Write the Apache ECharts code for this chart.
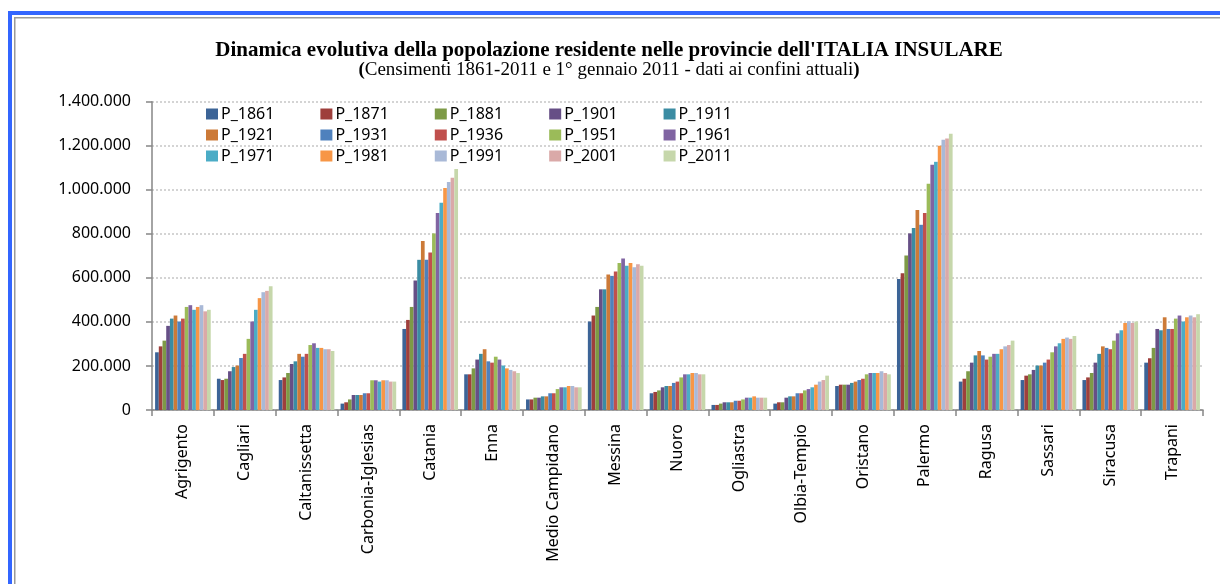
<!DOCTYPE html>
<html>
<head>
<meta charset="utf-8">
<script src="https://cdn.jsdelivr.net/npm/echarts@6/dist/echarts.min.js"></script>
<style>
  html, body { margin: 0; padding: 0; background: #fff; }
  #main { width: 1220px; height: 584px; }
</style>
</head>
<body>
<div id="main"></div>
<script>
// province
const categories = ['Agrigento', 'Cagliari', 'Caltanissetta', 'Carbonia-Iglesias', 'Catania', 'Enna', 'Medio Campidano', 'Messina', 'Nuoro', 'Ogliastra', 'Olbia-Tempio', 'Oristano', 'Palermo', 'Ragusa', 'Sassari', 'Siracusa', 'Trapani']

// popolazione per censimento
const p1861 = [262000, 142000, 136000, 29000, 368000, 162000, 48000, 402000, 76000, 23000, 29000, 109000, 595000, 129000, 136000, 136000, 215000]
const p1871 = [289000, 136000, 148000, 35000, 409000, 162000, 48000, 429000, 82000, 23000, 35000, 115000, 621000, 142000, 156000, 148000, 235000]
const p1881 = [315000, 142000, 168000, 48000, 468000, 189000, 56000, 468000, 89000, 29000, 35000, 115000, 702000, 176000, 162000, 168000, 282000]
const p1901 = [382000, 176000, 209000, 68000, 588000, 229000, 56000, 548000, 103000, 35000, 56000, 115000, 802000, 215000, 182000, 215000, 368000]
const p1911 = [415000, 195000, 221000, 68000, 682000, 255000, 62000, 548000, 109000, 35000, 62000, 123000, 827000, 248000, 202000, 255000, 362000]
const p1921 = [429000, 202000, 255000, 68000, 768000, 276000, 62000, 615000, 109000, 35000, 62000, 129000, 908000, 268000, 202000, 289000, 421000]
const p1931 = [402000, 236000, 242000, 76000, 682000, 221000, 76000, 609000, 123000, 42000, 76000, 136000, 841000, 248000, 215000, 282000, 368000]
const p1936 = [415000, 255000, 255000, 76000, 715000, 215000, 76000, 629000, 129000, 42000, 76000, 142000, 895000, 229000, 229000, 276000, 368000]
const p1951 = [468000, 323000, 295000, 135000, 802000, 242000, 95000, 668000, 148000, 48000, 89000, 162000, 1027000, 242000, 262000, 315000, 415000]
const p1961 = [476000, 402000, 303000, 135000, 895000, 229000, 103000, 688000, 162000, 56000, 95000, 168000, 1114000, 255000, 289000, 348000, 429000]
const p1971 = [455000, 455000, 282000, 129000, 941000, 202000, 103000, 655000, 162000, 56000, 103000, 168000, 1127000, 255000, 303000, 362000, 402000]
const p1981 = [468000, 508000, 282000, 135000, 1008000, 189000, 109000, 668000, 168000, 62000, 115000, 168000, 1200000, 276000, 323000, 395000, 421000]
const p1991 = [476000, 535000, 276000, 135000, 1035000, 182000, 109000, 648000, 168000, 56000, 129000, 176000, 1227000, 289000, 329000, 403000, 429000]
const p2001 = [448000, 541000, 276000, 129000, 1055000, 176000, 103000, 662000, 162000, 56000, 136000, 168000, 1233000, 295000, 323000, 395000, 421000]
const p2011 = [455000, 562000, 268000, 129000, 1094000, 168000, 103000, 655000, 162000, 56000, 156000, 162000, 1255000, 315000, 336000, 402000, 435000]

const seriesNames = ['P_1861', 'P_1871', 'P_1881', 'P_1901', 'P_1911', 'P_1921', 'P_1931', 'P_1936', 'P_1951', 'P_1961', 'P_1971', 'P_1981', 'P_1991', 'P_2001', 'P_2011']
const seriesData = [p1861, p1871, p1881, p1901, p1911, p1921, p1931, p1936, p1951, p1961, p1971, p1981, p1991, p2001, p2011]
const colors = ['#3c6497', '#9e3f3c', '#7d9a46', '#664f86', '#3b8ca3', '#cc7a38', '#4f81bd', '#c0504d', '#9bbb59', '#8064a2', '#4bacc6', '#f79646', '#a9b9d7', '#daa9a8', '#c6d7ab']

const fontSans = 'Noto Sans'

function fmt(v) {
  return String(v).replace(/\B(?=(\d{3})+(?!\d))/g, '.')
}

// tre righe di legenda, 5 voci ciascuna
const legends = [0, 1, 2].map(r => ({
  data: seriesNames.slice(r * 5, r * 5 + 5),
  left: 201,
  top: 101 + r * 21,
  orient: 'horizontal',
  itemWidth: 12,
  itemHeight: 11,
  itemGap: 46,
  icon: 'rect',
  selectedMode: false,
  textStyle: { fontFamily: fontSans, fontSize: 16, color: '#000', padding: [0, 0, 0, -2] }
}))

const chart = echarts.init(document.getElementById('main'))
chart.setOption({
  animation: false,
  color: colors,
  title: {
    text: "Dinamica evolutiva della popolazione residente nelle provincie dell'ITALIA INSULARE",
    subtext: '{b|(}Censimenti 1861-2011 e 1° gennaio 2011 - dati ai confini attuali{b|)}',
    left: 604,
    top: 35,
    textAlign: 'center',
    itemGap: 0,
    textStyle: { fontFamily: 'Liberation Serif', fontWeight: 'bold', fontSize: 21, color: '#000' },
    subtextStyle: {
      fontFamily: 'Liberation Serif', fontSize: 19, color: '#000',
      rich: { b: { fontFamily: 'Liberation Serif', fontWeight: 'bold', fontSize: 19, color: '#000' } }
    }
  },
  legend: legends,
  grid: { left: 152, right: 17, top: 101.7, bottom: 174 },
  xAxis: {
    type: 'category',
    data: categories,
    axisLine: { lineStyle: { color: '#868686', width: 1.5 } },
    axisTick: { show: true, length: 6, lineStyle: { color: '#868686', width: 1.5 } },
    axisLabel: { rotate: 90, margin: 14, fontFamily: fontSans, fontSize: 16, color: '#000', interval: 0 }
  },
  yAxis: {
    type: 'value',
    min: 0,
    max: 1400000,
    interval: 200000,
    axisLine: { show: true, lineStyle: { color: '#868686', width: 1.5 } },
    axisTick: { show: true, length: 6, lineStyle: { color: '#868686', width: 1.5 } },
    axisLabel: { margin: 21, fontFamily: fontSans, fontSize: 16, color: '#000', formatter: fmt },
    splitLine: { lineStyle: { color: '#c6c6c6', type: [2, 2], width: 1.5 } }
  },
  series: seriesNames.map((name, i) => ({
    name: name,
    type: 'bar',
    data: seriesData[i],
    barGap: '0%',
    barCategoryGap: '10%'
  })),
  graphic: [
    // cornice esterna
    { type: 'rect', shape: { x: 8, y: 11, width: 1212, height: 4 }, style: { fill: '#3366ff' }, silent: true },
    { type: 'rect', shape: { x: 8, y: 11, width: 4, height: 573 }, style: { fill: '#3366ff' }, silent: true },
    { type: 'rect', shape: { x: 14, y: 17, width: 1206, height: 1.5 }, style: { fill: '#9a9a9a' }, silent: true },
    { type: 'rect', shape: { x: 14, y: 17, width: 1.5, height: 567 }, style: { fill: '#9a9a9a' }, silent: true }
  ]
})
</script>
</body>
</html>
